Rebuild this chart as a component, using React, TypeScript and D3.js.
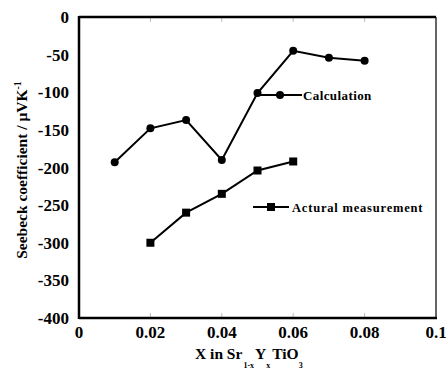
import React, { useEffect, useRef } from "react";
import * as d3 from "d3";

const xTicks = [0, 0.02, 0.04, 0.06, 0.08, 0.1];
const yTicks = [0, -50, -100, -150, -200, -250, -300, -350, -400];

const calcX = [0.01, 0.02, 0.03, 0.04, 0.05, 0.06, 0.07, 0.08];
const calcY = [-193, -148, -137, -190, -101, -45, -54, -58];

const measX = [0.02, 0.03, 0.04, 0.05, 0.06];
const measY = [-300, -260, -235, -204, -192];

const App = () => {
  const svgRef = useRef<SVGSVGElement>(null);

  useEffect(() => {
    const svg = d3.select(svgRef.current);
    svg.selectAll("*").remove();

    const left = 79, right = 436, top = 17, bottom = 318;
    const x = d3.scaleLinear().domain([0, 0.1]).range([left, right]);
    const y = d3.scaleLinear().domain([-400, 0]).range([bottom, top]);
    const font = "'Liberation Serif', 'Times New Roman', serif";

    // inner gray ticks top and bottom
    xTicks.slice(1, -1).forEach((t) => {
      svg.append("line")
        .attr("x1", x(t)).attr("x2", x(t))
        .attr("y1", bottom).attr("y2", bottom - 5)
        .attr("stroke", "#bbb").attr("stroke-width", 1);
      svg.append("line")
        .attr("x1", x(t)).attr("x2", x(t))
        .attr("y1", top).attr("y2", top + 5)
        .attr("stroke", "#bbb").attr("stroke-width", 1);
    });

    // frame
    svg.append("line").attr("x1", right).attr("x2", right)
      .attr("y1", top).attr("y2", bottom)
      .attr("stroke", "#333").attr("stroke-width", 1.5);
    svg.append("line").attr("x1", left).attr("x2", right)
      .attr("y1", top).attr("y2", top)
      .attr("stroke", "#000").attr("stroke-width", 2.5);
    svg.append("line").attr("x1", left).attr("x2", right + 1)
      .attr("y1", bottom).attr("y2", bottom)
      .attr("stroke", "#000").attr("stroke-width", 2.5);
    svg.append("line").attr("x1", left).attr("x2", left)
      .attr("y1", top - 1).attr("y2", bottom + 1)
      .attr("stroke", "#000").attr("stroke-width", 2.5);

    // tick labels
    svg.append("g").selectAll("text").data(xTicks).join("text")
      .attr("x", (d) => x(d)).attr("y", 338)
      .attr("text-anchor", "middle")
      .attr("font-family", font).attr("font-weight", "bold").attr("font-size", 17)
      .text((d) => (d === 0 ? "0" : d3.format(".2~f")(d)));

    svg.append("g").selectAll("text").data(yTicks).join("text")
      .attr("x", 69).attr("y", (d) => y(d) + 6)
      .attr("text-anchor", "end")
      .attr("font-family", font).attr("font-weight", "bold").attr("font-size", 17)
      .text((d) => String(d));

    // series
    const line = d3.line<[number, number]>().x((d) => x(d[0])).y((d) => y(d[1]));
    const calc = calcX.map((v, i) => [v, calcY[i]] as [number, number]);
    const meas = measX.map((v, i) => [v, measY[i]] as [number, number]);

    svg.append("path").attr("d", line(calc)).attr("fill", "none")
      .attr("stroke", "#000").attr("stroke-width", 2);
    svg.append("g").selectAll("circle").data(calc).join("circle")
      .attr("cx", (d) => x(d[0])).attr("cy", (d) => y(d[1])).attr("r", 4)
      .attr("fill", "#000");

    svg.append("path").attr("d", line(meas)).attr("fill", "none")
      .attr("stroke", "#000").attr("stroke-width", 2);
    svg.append("g").selectAll("rect").data(meas).join("rect")
      .attr("x", (d) => x(d[0]) - 4).attr("y", (d) => y(d[1]) - 4)
      .attr("width", 8).attr("height", 8).attr("fill", "#000");

    // legends
    svg.append("line").attr("x1", 258).attr("x2", 302).attr("y1", 95).attr("y2", 95)
      .attr("stroke", "#000").attr("stroke-width", 2);
    svg.append("circle").attr("cx", 280).attr("cy", 95).attr("r", 4).attr("fill", "#000");
    svg.append("text").attr("x", 303).attr("y", 99.5)
      .attr("font-family", font).attr("font-weight", "bold").attr("font-size", 13)
      .attr("letter-spacing", 0.4)
      .text("Calculation");

    svg.append("line").attr("x1", 253).attr("x2", 289).attr("y1", 207).attr("y2", 207)
      .attr("stroke", "#000").attr("stroke-width", 2);
    svg.append("rect").attr("x", 267).attr("y", 203).attr("width", 8).attr("height", 8)
      .attr("fill", "#000");
    svg.append("text").attr("x", 292).attr("y", 211.5)
      .attr("font-family", font).attr("font-weight", "bold").attr("font-size", 12.5)
      .attr("letter-spacing", 0.8)
      .text("Actural measurement");

    // axis titles
    const yt = svg.append("text")
      .attr("transform", "translate(27,170) rotate(-90)")
      .attr("text-anchor", "middle")
      .attr("font-family", font).attr("font-weight", "bold").attr("font-size", 15.5);
    yt.append("tspan").text("Seebeck coefficient / \u03bcVK");
    yt.append("tspan").attr("dy", -6).attr("font-size", 10).text("-1");

    const xt = svg.append("text").attr("x", 195).attr("y", 359)
      .attr("font-family", font).attr("font-weight", "bold").attr("font-size", 15.5);
    xt.append("tspan").text("X in Sr");
    xt.append("tspan").attr("dy", 9).attr("font-size", 8).attr("dx", 1).text("1-x");
    xt.append("tspan").attr("dy", -9).attr("dx", 1).text("Y");
    xt.append("tspan").attr("dy", 9).attr("font-size", 8).text("x");
    xt.append("tspan").attr("dy", -9).attr("dx", 2).text("TiO");
    xt.append("tspan").attr("dy", 9).attr("font-size", 8).text("3");
  }, []);

  return (
    <svg
      ref={svgRef}
      width={446}
      height={369}
      style={{ position: "absolute", left: 0, top: 0, background: "#fff" }}
    ></svg>
  );
};

export default App;
